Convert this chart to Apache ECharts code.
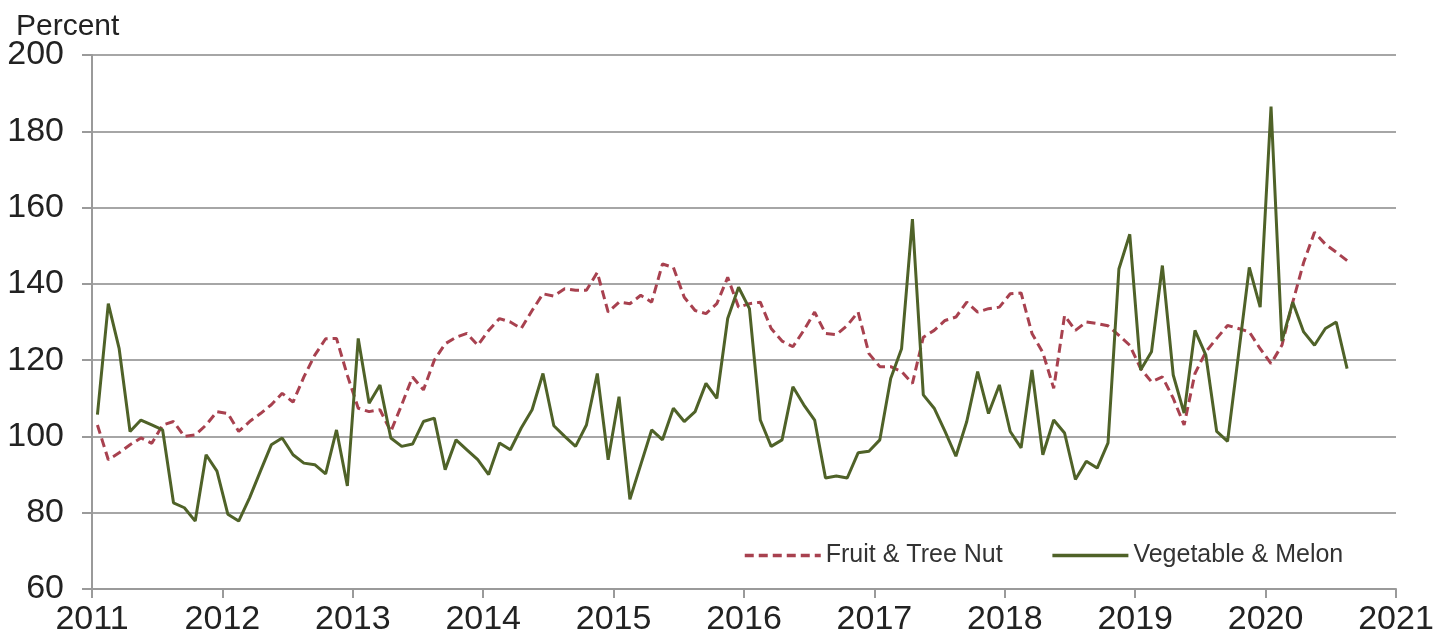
<!DOCTYPE html>
<html>
<head>
<meta charset="utf-8">
<title>Fruit & Tree Nut vs Vegetable & Melon</title>
<script src="https://cdn.jsdelivr.net/npm/echarts@6/dist/echarts.min.js"></script>
<style>
  html, body { margin: 0; padding: 0; background: #fff; }
  #chart { width: 1445px; height: 641px; }
</style>
</head>
<body>
<div id="chart"></div>
<script>
// monthly values, Jan 2011 .. Aug 2020
const startYear = 2011;
const yearTicks = [2011, 2012, 2013, 2014, 2015, 2016, 2017, 2018, 2019, 2020, 2021];
const fruitTreeNut = [
  103, 93.9, 95.7, 97.8, 99.6, 98.2, 103, 103.9, 100, 100.4, 103, 106.5,
  106, 101.3, 103.9, 106, 108.3, 111.3, 109, 115.6, 121.3, 125.6, 125.7, 116,
  107.4, 106.5, 107, 101.3, 108.3, 115.6, 112.2, 120, 124.3, 126, 127, 123.9,
  127.8, 130.9, 130, 128.3, 133, 137.4, 136.8, 138.7, 138.3, 138.3, 143, 132.6,
  135.2, 134.8, 137, 135.2, 145.2, 144.3, 136.5, 133, 132.2, 134.8, 141.7, 133.9,
  134.8, 135.2, 128.3, 125, 123.5, 127.8, 132.6, 127, 126.7, 129.1, 132.6, 121.7,
  118.3, 118.3, 117, 113.9, 126, 127.8, 130.4, 131.3, 135.2, 132.6, 133.5, 133.9,
  137.4, 137.6, 127, 122, 112.6, 131.7, 127.8, 130, 129.6, 129, 126.5, 123.9,
  117.8, 114.3, 115.6, 110, 103, 116.5, 122.2, 125.7, 129.1, 128.3, 127.4, 123,
  119.1, 123.9, 135.2, 145.6, 153.5, 150.4, 148.3, 146.1
];
const vegetableMelon = [
  105.7, 134.8, 123, 101.3, 104.3, 103, 101.7, 82.6, 81.3, 77.8, 95.2, 90.9,
  79.6, 77.8, 83.9, 90.9, 97.8, 99.6, 95.2, 93, 92.6, 90.2, 101.7, 87,
  125.7, 108.7, 113.5, 99.6, 97.4, 98, 103.9, 104.8, 91.3, 99.1, 96.5, 93.9,
  90, 98.3, 96.5, 102.2, 107, 116.5, 102.8, 100, 97.4, 103, 116.5, 93.9,
  110.4, 83.5, 92.6, 101.7, 99.1, 107.4, 103.9, 106.5, 113.9, 110, 130.9, 139.1,
  133.5, 104.3, 97.4, 99.1, 113, 108.3, 104.3, 89.1, 89.6, 89.1, 95.7, 96.1,
  99.1, 115.2, 123, 157, 110.9, 107.4, 101.3, 94.8, 103.9, 117, 106, 113.5,
  101.3, 97, 117.4, 95.2, 104.3, 100.9, 88.7, 93.5, 91.7, 98.3, 143.9, 153,
  117.4, 122.2, 144.8, 116.1, 106.1, 127.8, 121.3, 101.3, 98.7, 121.3, 144.3, 133.9,
  186.5, 125, 135.2, 127.4, 123.9, 128.3, 130, 117.8
];

// month index -> point at middle of that month
function toPoints(arr) {
  return arr.map((v, i) => [i + 0.5, v]);
}

const font = 'Liberation Sans, Arial, sans-serif';
const chart = echarts.init(document.getElementById('chart'));

let option = {
  animation: false,
  grid: {
    left: 92,
    top: 55,
    right: 49,
    bottom: 52
  },
  title: {
    text: 'Percent',
    left: 11,
    top: 7,
    textStyle: { fontFamily: font, fontSize: 30, fontWeight: 'normal', color: '#222' }
  },
  legend: {
    left: 738,
    top: 538,
    itemWidth: 76,
    itemHeight: 14,
    itemGap: 48,
    itemStyle: { opacity: 0 },
    lineStyle: { width: 3.5 },
    textStyle: { fontFamily: font, fontSize: 25, color: '#333' },
    data: ['Fruit & Tree Nut', 'Vegetable & Melon']
  },
  xAxis: {
    type: 'value',
    min: 0,
    max: (yearTicks.length - 1) * 12,
    interval: 12,
    axisLine: { show: true, lineStyle: { color: '#9a9a9a', width: 2 } },
    axisTick: { show: true, length: 9, lineStyle: { color: '#9a9a9a', width: 2 } },
    axisLabel: {
      fontFamily: font,
      fontSize: 34,
      color: '#222',
      margin: 14,
      formatter: v => String(startYear + v / 12)
    },
    splitLine: { show: false }
  },
  yAxis: {
    type: 'value',
    min: 60,
    max: 200,
    interval: 20,
    axisLine: { show: true, lineStyle: { color: '#9a9a9a', width: 2 } },
    axisTick: { show: true, length: 10, lineStyle: { color: '#9a9a9a', width: 2 } },
    axisLabel: { fontFamily: font, fontSize: 34, color: '#222', margin: 28 },
    splitLine: { show: true, lineStyle: { color: '#a6a6a6', width: 2 } }
  },
  series: [
    {
      name: 'Fruit & Tree Nut',
      type: 'line',
      data: toPoints(fruitTreeNut),
      symbol: 'none',
      color: '#a8414f',
      lineStyle: { color: '#a8414f', width: 3, type: [9, 5] },
      z: 2
    },
    {
      name: 'Vegetable & Melon',
      type: 'line',
      data: toPoints(vegetableMelon),
      symbol: 'none',
      color: '#4f6228',
      lineStyle: { color: '#4f6228', width: 3 },
      z: 3
    }
  ]
};
chart.setOption(option);
</script>
</body>
</html>
